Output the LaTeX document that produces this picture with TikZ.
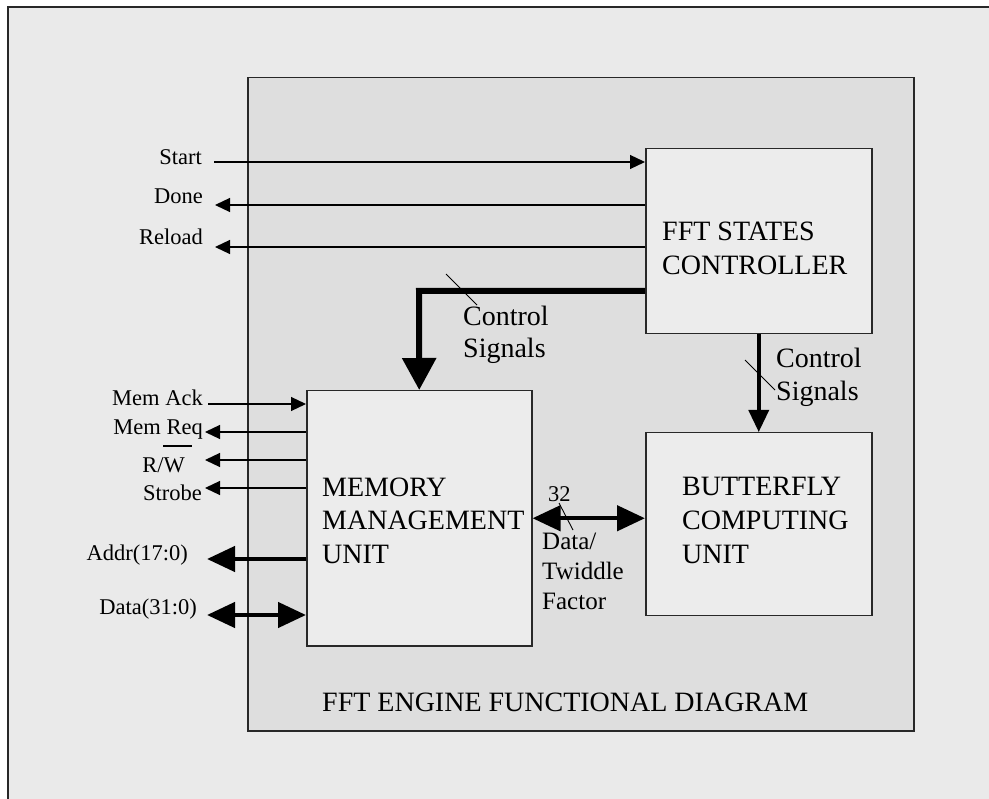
\documentclass[tikz,border=0pt]{standalone}
\usepackage{fontspec}
\setmainfont{Liberation Serif}
\usetikzlibrary{arrows.meta}
\definecolor{outerbg}{RGB}{234,234,234}
\definecolor{innerbg}{RGB}{222,222,222}
\definecolor{boxbg}{RGB}{236,236,236}
\definecolor{edge}{RGB}{40,40,40}
\begin{document}
\begin{tikzpicture}[x=1pt,y=-1pt,
  frame/.style={draw=edge, line width=1.5pt, inner sep=0pt, anchor=north west},
  box/.style={frame, fill=boxbg},
  big/.style={font=\fontsize{28}{34}\selectfont, inner sep=0pt, anchor=north west, align=left},
  small/.style={font=\fontsize{22.5}{27}\selectfont, inner sep=0pt, anchor=base east},
  sig/.style={line width=1.2pt, draw=black},
  tipS/.style={-{Triangle[length=15pt,width=14pt]}},
  bus/.style={line width=4.5pt, draw=black},
  tipB/.style={-{Triangle[length=28pt,width=25pt]}},
  tipBB/.style={{Triangle[length=28pt,width=25pt]}-{Triangle[length=28pt,width=25pt]}},
  slash/.style={line width=0.9pt, draw=black}
]
\useasboundingbox (0,0) rectangle (989,799);
\fill[white] (0,0) rectangle (989,799);
\begin{scope}
\clip (0,0) rectangle (989,799);
\draw[draw=edge, line width=2pt, fill=outerbg] (8,7) rectangle (1010,820);
\end{scope}

% main frame and blocks
\node[frame, fill=innerbg, minimum width=666, minimum height=653] (engine) at (247,77) {};
\node[box, minimum width=226, minimum height=185] (ctrl) at (645,148) {};
\node[box, minimum width=225, minimum height=255] (mmu) at (306,390) {};
\node[box, minimum width=226, minimum height=183] (bfu) at (645,432) {};

\node[big] (ctrlT) at (662,221.5) {FFT STATES\\CONTROLLER};
\node[big, font=\fontsize{28}{33.5}\selectfont] (mmuT) at (322,477.5) {MEMORY\\MANAGEMENT\\UNIT};
\node[big] (bfuT) at (682,476.5) {BUTTERFLY\\COMPUTING\\UNIT};
\node[big, anchor=base west] (title) at (322,711) {FFT ENGINE FUNCTIONAL DIAGRAM};

% controller signals
\node[small] (startT) at (202,165) {Start};
\node[small] (doneT) at (203,204) {Done};
\node[small] (reloadT) at (203,245) {Reload};
\coordinate (startL) at (214,162);
\coordinate (doneL) at (215,205);
\coordinate (reloadL) at (215,247);
\draw[sig, tipS] (startL) -- (startL -| ctrl.west);
\draw[sig, tipS] (doneL -| ctrl.west) -- (doneL);
\draw[sig, tipS] (reloadL -| ctrl.west) -- (reloadL);

% control signals to MMU
\coordinate (cbend) at (419,291);
\draw[line width=6pt, line join=miter, -{Triangle[length=32pt,width=33pt]}] (cbend -| ctrl.west) -- (cbend) -- (mmu.north);
\coordinate (s1a) at (446,274);
\coordinate (s1b) at (477,305);
\draw[slash] (s1a) -- (s1b);
\node[big, font=\fontsize{28}{32}\selectfont] (cs1) at (463,306) {Control\\Signals};

% control signals to butterfly
\draw[line width=3.5pt, -{Triangle[length=22pt,width=20pt]}] (ctrl.south) -- (bfu.north);
\coordinate (s2a) at (745,360);
\coordinate (s2b) at (775,390);
\draw[slash] (s2a) -- (s2b);
\node[big, font=\fontsize{28}{33}\selectfont] (cs2) at (776,348) {Control\\Signals};

% data / twiddle
\draw[bus, tipBB] (mmu.east) -- (mmu.east -| bfu.west);
\coordinate (s3a) at (559,503);
\coordinate (s3b) at (573,530);
\draw[slash] (s3a) -- (s3b);
\node[small, anchor=base west] (w32) at (548,502) {32};
\node[big, font=\fontsize{25}{30}\selectfont] (dtf) at (542,532.5) {Data/\\Twiddle\\Factor};

% memory interface
\node[small] (ackT) at (203,406) {Mem Ack};
\node[small] (reqT) at (203,435) {Mem Req};
\node[small] (rwT) at (185,473) {R/W};
\node[small] (strT) at (202,501) {Strobe};
\node[small] (addrT) at (188,561) {Addr(17:0)};
\node[small] (dataT) at (197,615) {Data(31:0)};
\coordinate (ol1) at (163,446);
\coordinate (ol2) at (192,446);
\draw[line width=1.2pt] (ol1) -- (ol2);

\coordinate (ackL) at (208,404);
\coordinate (reqL) at (205,432);
\coordinate (rwL) at (205,460);
\coordinate (strL) at (205,488);
\coordinate (addrL) at (207,559);
\coordinate (dataL) at (207,615);
\draw[sig, tipS] (ackL) -- (ackL -| mmu.west);
\draw[sig, tipS] (reqL -| mmu.west) -- (reqL);
\draw[sig, tipS] (rwL -| mmu.west) -- (rwL);
\draw[sig, tipS] (strL -| mmu.west) -- (strL);
\draw[bus, tipB] (addrL -| mmu.west) -- (addrL);
\draw[bus, tipBB] (dataL) -- (dataL -| mmu.west);
\end{tikzpicture}
\end{document}
